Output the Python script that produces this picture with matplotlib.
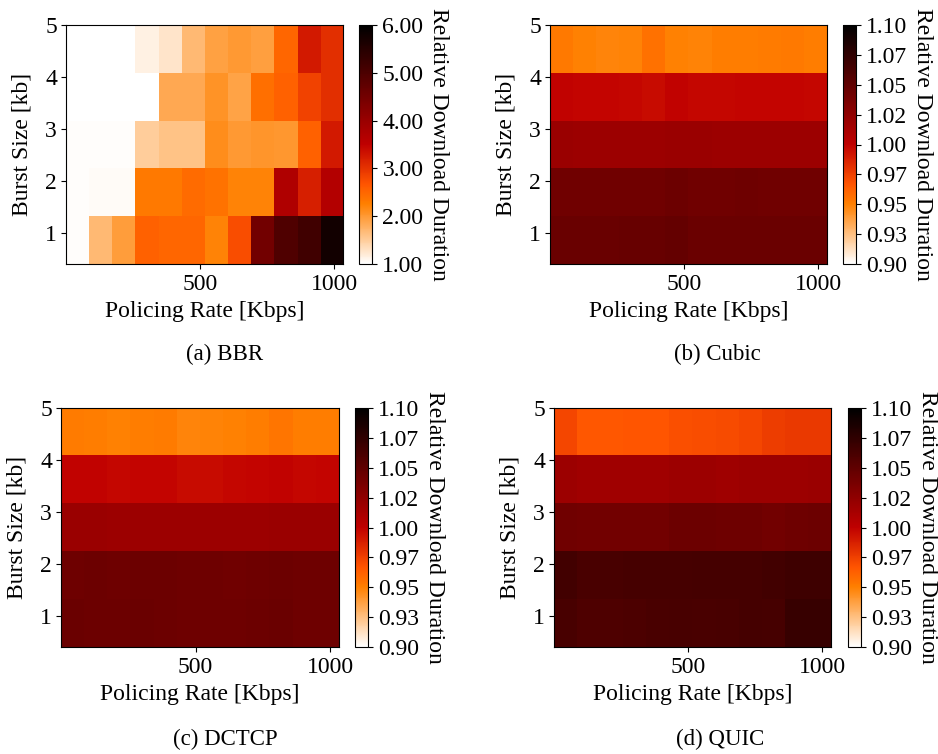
import numpy as np
import matplotlib
matplotlib.use("Agg")
import matplotlib.pyplot as plt

plt.rcParams['font.family'] = ['Liberation Serif', 'DejaVu Serif']
plt.rcParams['font.size'] = 17

# ---- data ----
burst_sizes = [1, 2, 3, 4, 5]
x_ticks = [500, 1000]
y_ticks = [1, 2, 3, 4, 5]
x_extent = (0, 1033)
y_extent = (0.41, 5.0)

# rows: burst 1 .. 5 ; 12 policing-rate columns
bbr = [
    [1.03, 1.70, 1.97, 2.56, 2.50, 2.50, 2.22, 2.75, 4.50, 4.95, 5.15, 5.75],
    [1.03, 1.05, 1.05, 2.32, 2.32, 2.46, 2.37, 2.22, 2.22, 3.71, 3.20, 3.65],
    [1.02, 1.02, 1.02, 1.50, 1.60, 1.60, 2.12, 2.00, 2.05, 2.03, 2.56, 3.25],
    [1.00, 1.00, 1.00, 1.00, 1.85, 1.85, 2.07, 1.90, 2.42, 2.56, 2.85, 3.05],
    [1.00, 1.00, 1.00, 1.15, 1.27, 1.70, 1.93, 2.00, 1.95, 2.50, 3.25, 3.05],
]
cubic = [
    [1.045, 1.045, 1.045, 1.046, 1.046, 1.047, 1.044, 1.044, 1.044, 1.044, 1.044, 1.044],
    [1.041, 1.041, 1.041, 1.041, 1.041, 1.043, 1.041, 1.041, 1.042, 1.041, 1.041, 1.041],
    [1.019, 1.018, 1.018, 1.018, 1.018, 1.019, 1.019, 1.018, 1.018, 1.018, 1.018, 1.018],
    [0.999, 0.998, 0.998, 0.997, 0.996, 0.999, 0.997, 0.997, 0.998, 0.998, 0.998, 0.997],
    [0.953, 0.950, 0.948, 0.949, 0.956, 0.950, 0.949, 0.951, 0.951, 0.952, 0.953, 0.951],
]
dctcp = [
    [1.044, 1.043, 1.043, 1.044, 1.043, 1.042, 1.042, 1.042, 1.043, 1.044, 1.042, 1.042],
    [1.042, 1.043, 1.042, 1.043, 1.043, 1.042, 1.042, 1.041, 1.042, 1.043, 1.042, 1.042],
    [1.019, 1.019, 1.018, 1.018, 1.018, 1.018, 1.018, 1.018, 1.018, 1.019, 1.019, 1.019],
    [0.999, 0.999, 0.997, 0.998, 0.998, 0.996, 0.996, 0.997, 0.998, 0.999, 0.997, 0.998],
    [0.952, 0.951, 0.950, 0.951, 0.952, 0.948, 0.949, 0.950, 0.951, 0.954, 0.951, 0.951],
]
quic = [
    [1.062, 1.059, 1.059, 1.060, 1.061, 1.062, 1.061, 1.062, 1.064, 1.063, 1.071, 1.071],
    [1.065, 1.061, 1.062, 1.063, 1.063, 1.063, 1.064, 1.064, 1.064, 1.065, 1.067, 1.067],
    [1.041, 1.040, 1.040, 1.040, 1.040, 1.043, 1.043, 1.042, 1.042, 1.040, 1.042, 1.043],
    [1.018, 1.016, 1.016, 1.016, 1.016, 1.018, 1.018, 1.017, 1.018, 1.018, 1.018, 1.019],
    [0.972, 0.966, 0.966, 0.967, 0.967, 0.969, 0.970, 0.971, 0.972, 0.976, 0.978, 0.978],
]

small_ticks = [0.9, 0.925, 0.95, 0.975, 1.0, 1.025, 1.05, 1.075, 1.1]
small_labels = ["0.90", "0.93", "0.95", "0.97", "1.00", "1.02", "1.05", "1.07", "1.10"]
panels = [
    ("(a) BBR", bbr, 1.0, 6.0, [1, 2, 3, 4, 5, 6],
     ["1.00", "2.00", "3.00", "4.00", "5.00", "6.00"]),
    ("(b) Cubic", cubic, 0.9, 1.1, small_ticks, small_labels),
    ("(c) DCTCP", dctcp, 0.9, 1.1, small_ticks, small_labels),
    ("(d) QUIC", quic, 0.9, 1.1, small_ticks, small_labels),
]

W, H = 938, 754
fig = plt.figure(figsize=(W / 100, H / 100), dpi=100)

def px(l, t, r, b):
    return [l / W, 1 - b / H, (r - l) / W, (b - t) / H]

# pixel boxes: axes (l,t,r,b), colorbar (l,t,r,b), caption (x,y)
layout = [
    ((66, 25, 343, 264), (359, 25, 372, 264), (225, 354)),
    ((550, 25, 827, 264), (843, 25, 856, 264), (717, 354)),
    ((61, 408, 339, 647), (355, 408, 368, 647), (225, 739)),
    ((554, 408, 831, 647), (848, 408, 861, 647), (720, 739)),
]

for (cap, data, vmin, vmax, cticks, clabels), (abox, cbox, cpos) in zip(panels, layout):
    ax = fig.add_axes(px(*abox))
    im = ax.imshow(np.array(data), cmap='gist_heat_r', vmin=vmin, vmax=vmax,
                   origin='lower', aspect='auto', interpolation='nearest',
                   extent=[x_extent[0], x_extent[1], y_extent[0], y_extent[1]])
    ax.set_xticks(x_ticks)
    ax.set_yticks(y_ticks)
    ax.tick_params(length=3.5, width=0.8)
    ax.tick_params(axis='x', pad=4)
    ax.tick_params(axis='y', pad=3)
    ax.set_xlabel("Policing Rate [Kbps]", labelpad=4)
    ax.set_ylabel("Burst Size [kb]", labelpad=9)
    cax = fig.add_axes(px(*cbox))
    cb = fig.colorbar(im, cax=cax)
    cb.set_ticks(cticks)
    cb.set_ticklabels(clabels)
    cb.ax.tick_params(length=3.5, width=0.8, pad=4)
    cb.outline.set_linewidth(0.8)
    cb.set_label("Relative Download Duration", rotation=270, labelpad=18)
    fig.text(cpos[0] / W, 1 - cpos[1] / H, cap, ha='center', va='center', fontsize=16.5)

fig.savefig("out.png", dpi=100)
